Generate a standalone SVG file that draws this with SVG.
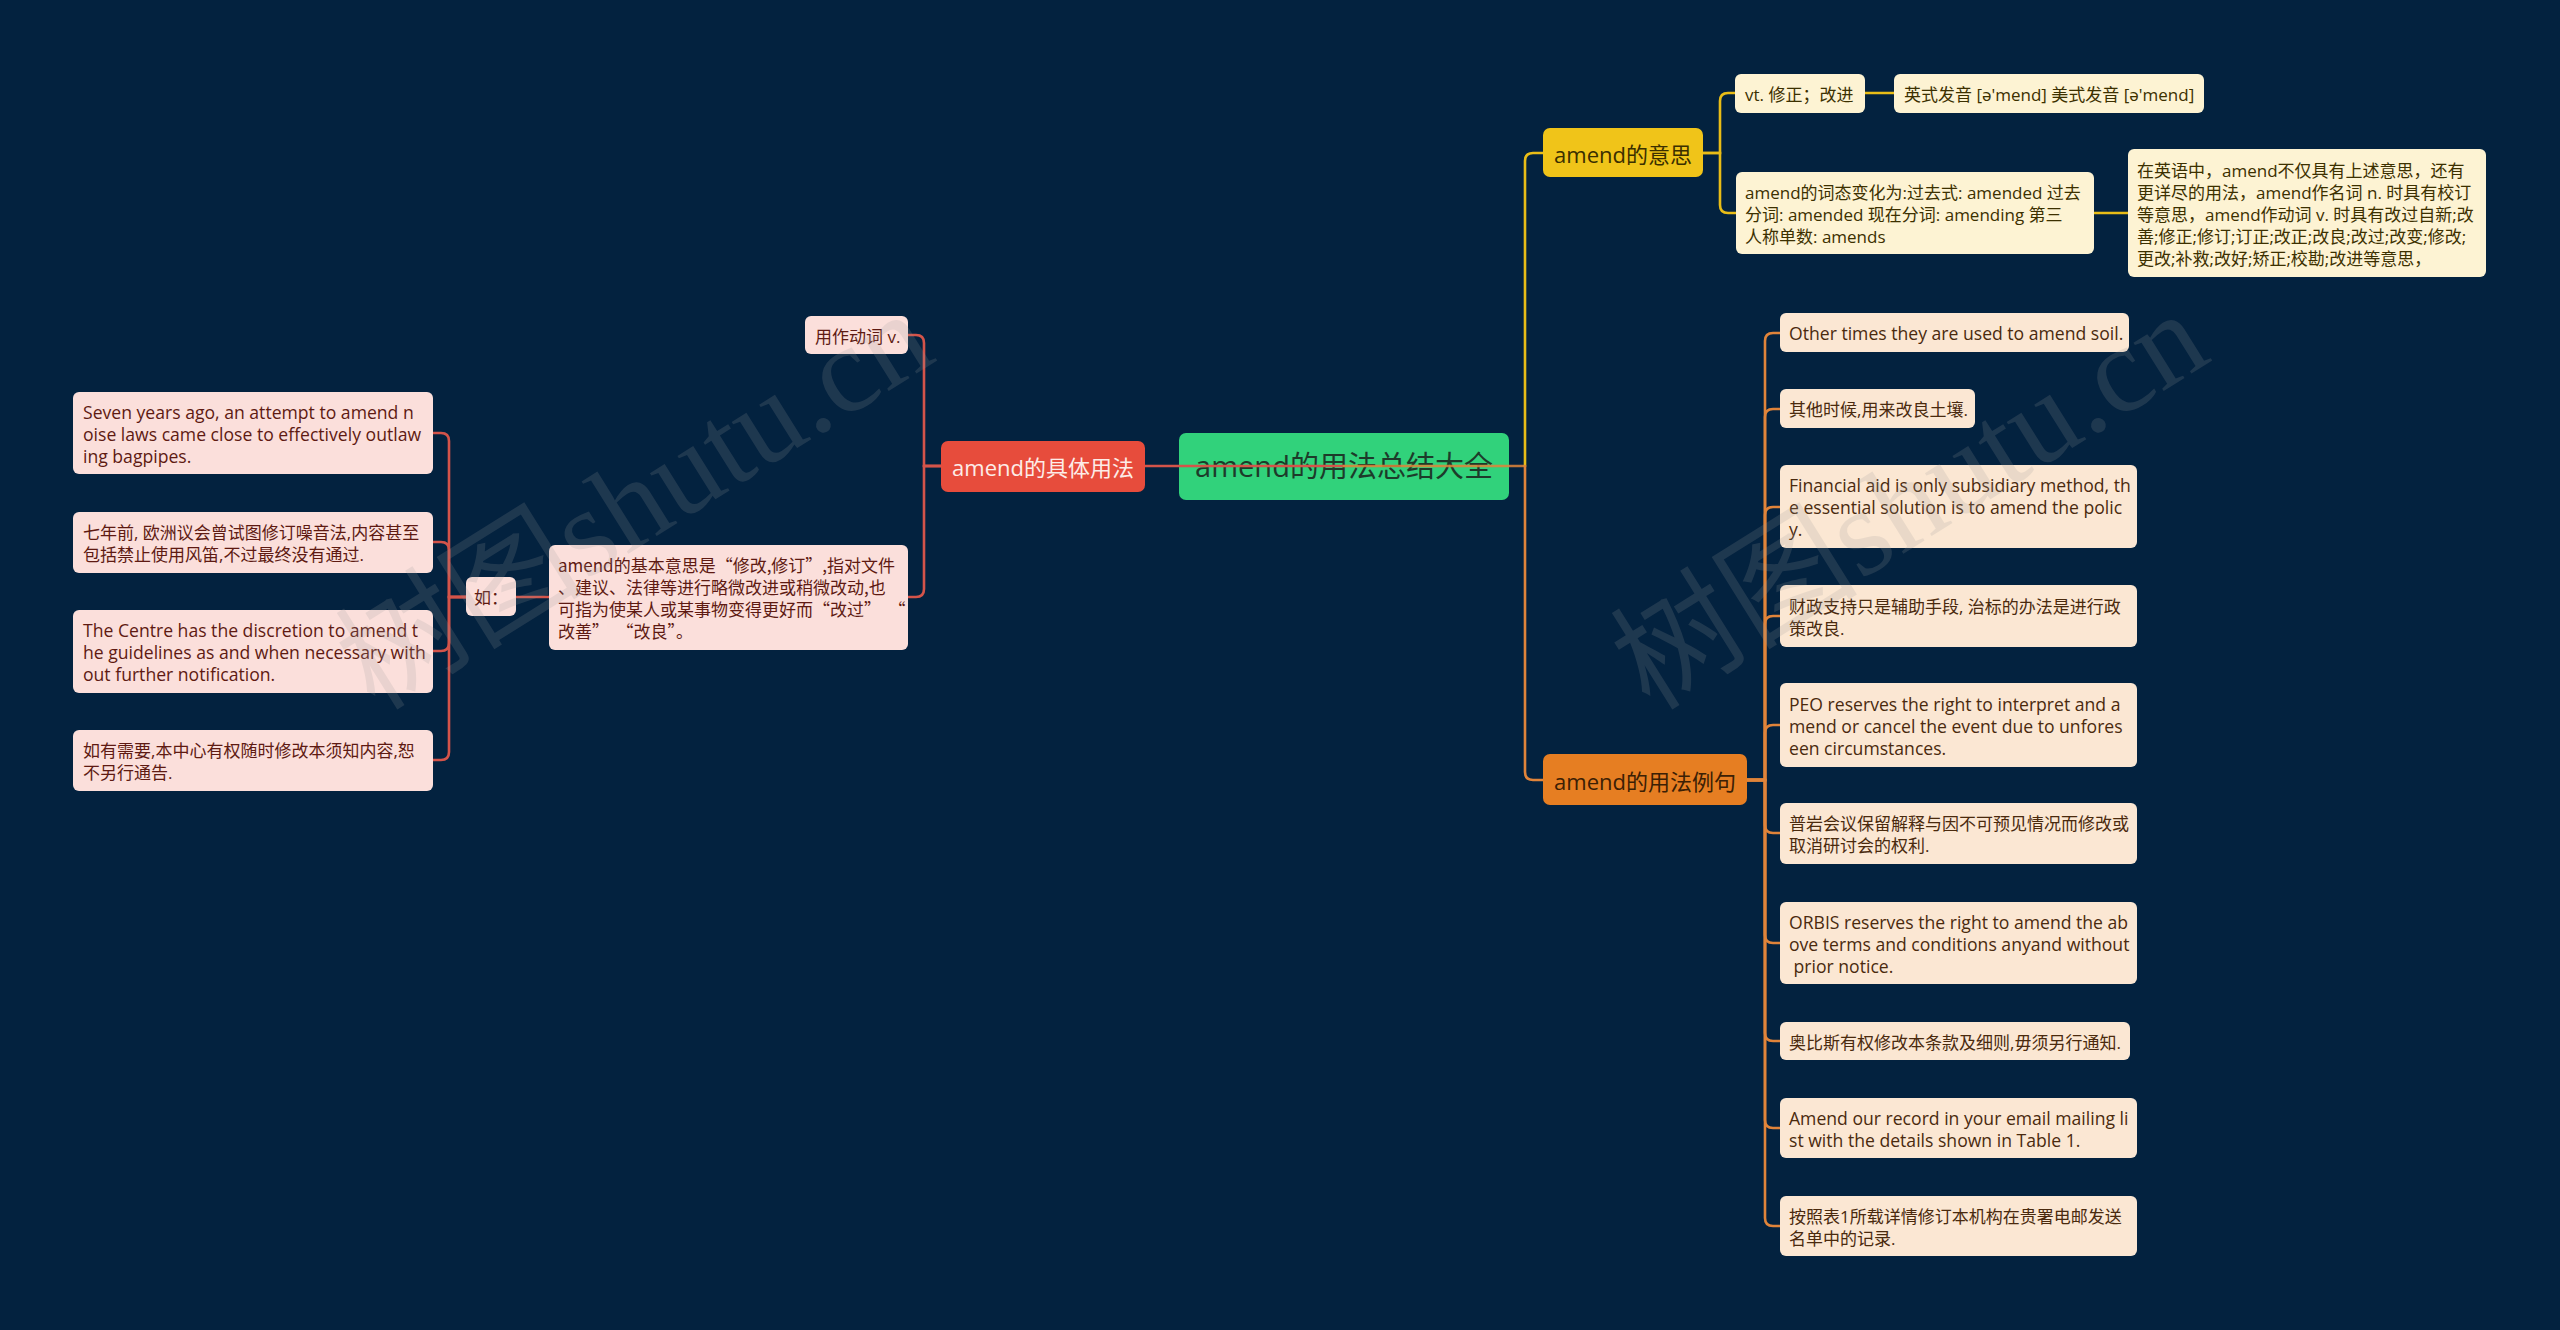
<svg xmlns="http://www.w3.org/2000/svg" width="2560" height="1330" viewBox="0 0 2560 1330">
<style>
text{font-family:"Open Sans","Noto Sans CJK SC",sans-serif;font-size:17px}
.en{font-size:17.6px}
.cjk{font-family:"Noto Sans CJK SC","Open Sans",sans-serif}
.c{stroke-width:2.6;fill:none;stroke-linecap:round}
.cr{stroke:#d4544a}.cg{stroke:#e9bd17}.co{stroke:#e0843a}
.pk rect{fill:#fbdfdb}.pk text{fill:#5e1a12}
.cr2 rect{fill:#fdf3d3}.cr2 text{fill:#3c3000}
.pe rect{fill:#fbe7d3}.pe text{fill:#4a2a0e}
.mid{text-anchor:middle;font-size:22px}
.wm{font-family:"Liberation Serif","Noto Sans CJK SC",serif;font-size:124px;fill:#9a9a9a;opacity:.18}
</style>
<rect width="2560" height="1330" fill="#03223f"/>
<g id="root"><rect x="1179" y="433" width="330" height="67" rx="7" fill="#31d27b"/><text x="1344" y="477" class="mid" style="font-size:29px" fill="#1d3b2a">amend的用法总结大全</text></g>
<g id="connectors">
<path class="c cr" d="M1344,466 H924"/>
<path class="c cr" d="M941,466 H924 V343 Q924,335 916,335 H908"/>
<path class="c cr" d="M941,466 H924 V589 Q924,597 916,597 H908"/>
<path class="c cr" d="M549,597 H516"/>
<path class="c cr" d="M466,597 H449 V441 Q449,433 441,433 H433"/>
<path class="c cr" d="M466,597 H449 V550 Q449,542 441,542 H433"/>
<path class="c cr" d="M466,597 H449 V643 Q449,651 441,651 H433"/>
<path class="c cr" d="M466,597 H449 V752 Q449,760 441,760 H433"/>
<path class="c co" d="M1344,466 H1525" opacity=".85"/>
<path class="c cg" d="M1525,466 V161 Q1525,153 1533,153 H1543"/>
<path class="c co" d="M1525,466 V772 Q1525,780 1533,780 H1543"/>
<path class="c cg" d="M1703,153 H1720 V101 Q1720,93 1728,93 H1735"/>
<path class="c cg" d="M1703,153 H1720 V205 Q1720,213 1728,213 H1736"/>
<path class="c cg" d="M1865,93 H1894"/>
<path class="c cg" d="M2094,213 H2128"/>
<path class="c co" d="M1747,780 H1765 V341 Q1765,333 1773,333 H1780"/>
<path class="c co" d="M1747,780 H1765 V417 Q1765,409 1773,409 H1780"/>
<path class="c co" d="M1747,780 H1765 V515 Q1765,507 1773,507 H1780"/>
<path class="c co" d="M1747,780 H1765 V624 Q1765,616 1773,616 H1780"/>
<path class="c co" d="M1747,780 H1765 V733 Q1765,725 1773,725 H1780"/>
<path class="c co" d="M1747,780 H1765 V825 Q1765,833 1773,833 H1780"/>
<path class="c co" d="M1747,780 H1765 V935 Q1765,943 1773,943 H1780"/>
<path class="c co" d="M1747,780 H1765 V1033 Q1765,1041 1773,1041 H1780"/>
<path class="c co" d="M1747,780 H1765 V1120 Q1765,1128 1773,1128 H1780"/>
<path class="c co" d="M1747,780 H1765 V1218 Q1765,1226 1773,1226 H1780"/>
</g>
<g id="b-mean"><rect x="1543" y="128" width="160" height="49" rx="7" fill="#f0c419"/><text x="1623" y="162.5" class="mid" fill="#3a2f00">amend的意思</text></g>
<g id="b-ex"><rect x="1543" y="754" width="204" height="51" rx="7" fill="#e67e22"/><text x="1645" y="789.5" class="mid" fill="#3b2005">amend的用法例句</text></g>
<g id="b-use"><rect x="941" y="441" width="204" height="51" rx="7" fill="#e74c3c"/><text x="1043" y="475.5" class="mid" fill="#fdece8">amend的具体用法</text></g>

<g class="cr2">
<g id="m1"><rect x="1735" y="74" width="130" height="39" rx="6"/><text x="1745" y="100.5">vt. 修正；改进</text></g>
<g id="m2"><rect x="1894" y="74" width="310" height="39" rx="6"/><text x="1904" y="100.5">英式发音 [ə'mend] 美式发音 [ə'mend]</text></g>
<g id="m3"><rect x="1736" y="172" width="358" height="82" rx="6"/><text><tspan x="1745" y="198.5">amend的词态变化为:过去式: amended 过去</tspan><tspan x="1745" y="220.5">分词: amended 现在分词: amending 第三</tspan><tspan x="1745" y="242.5">人称单数: amends</tspan></text></g>
<g id="m4"><rect x="2128" y="149" width="358" height="128" rx="6"/><text><tspan x="2137" y="176.5">在英语中，amend不仅具有上述意思，还有</tspan><tspan x="2137" y="198.5">更详尽的用法，amend作名词 n. 时具有校订</tspan><tspan x="2137" y="220.5">等意思，amend作动词 v. 时具有改过自新;改</tspan><tspan x="2137" y="242.5">善;修正;修订;订正;改正;改良;改过;改变;修改;</tspan><tspan x="2137" y="264.5">更改;补救;改好;矫正;校勘;改进等意思，</tspan></text></g>
</g>

<g class="pe">
<g id="e1"><rect x="1780" y="313" width="349" height="39" rx="6"/><text class="en" x="1789" y="340">Other times they are used to amend soil.</text></g>
<g id="e2"><rect x="1780" y="389" width="195" height="39" rx="6"/><text x="1789" y="416">其他时候,用来改良土壤.</text></g>
<g id="e3"><rect x="1780" y="465" width="357" height="83" rx="6"/><text class="en"><tspan x="1789" y="492">Financial aid is only subsidiary method, th</tspan><tspan x="1789" y="514">e essential solution is to amend the polic</tspan><tspan x="1789" y="536">y.</tspan></text></g>
<g id="e4"><rect x="1780" y="585" width="357" height="62" rx="6"/><text><tspan x="1789" y="612.5">财政支持只是辅助手段, 治标的办法是进行政</tspan><tspan x="1789" y="634.5">策改良.</tspan></text></g>
<g id="e5"><rect x="1780" y="683" width="357" height="84" rx="6"/><text class="en"><tspan x="1789" y="710.5">PEO reserves the right to interpret and a</tspan><tspan x="1789" y="732.5">mend or cancel the event due to unfores</tspan><tspan x="1789" y="754.5">een circumstances.</tspan></text></g>
<g id="e6"><rect x="1780" y="803" width="357" height="61" rx="6"/><text><tspan x="1789" y="830">普岩会议保留解释与因不可预见情况而修改或</tspan><tspan x="1789" y="852">取消研讨会的权利.</tspan></text></g>
<g id="e7"><rect x="1780" y="902" width="357" height="82" rx="6"/><text class="en"><tspan x="1789" y="928.5">ORBIS reserves the right to amend the ab</tspan><tspan x="1789" y="950.5">ove terms and conditions anyand without</tspan><tspan x="1789" y="972.5" xml:space="preserve"> prior notice.</tspan></text></g>
<g id="e8"><rect x="1780" y="1022" width="350" height="38" rx="6"/><text x="1789" y="1048.5">奥比斯有权修改本条款及细则,毋须另行通知.</text></g>
<g id="e9"><rect x="1780" y="1098" width="357" height="60" rx="6"/><text class="en"><tspan x="1789" y="1124.5">Amend our record in your email mailing li</tspan><tspan x="1789" y="1146.5">st with the details shown in Table 1.</tspan></text></g>
<g id="e10"><rect x="1780" y="1196" width="357" height="60" rx="6"/><text><tspan x="1789" y="1222.5">按照表1所载详情修订本机构在贵署电邮发送</tspan><tspan x="1789" y="1244.5">名单中的记录.</tspan></text></g>
</g>

<g class="pk">
<g id="u1"><rect x="805" y="316" width="103" height="38" rx="6"/><text x="815" y="342.5">用作动词 v.</text></g>
<g id="u2"><rect x="549" y="545" width="359" height="105" rx="6"/><text class="cjk" xml:space="preserve"><tspan x="558" y="572">amend的基本意思是“修改,修订”,指对文件</tspan><tspan x="558" y="594">、建议、法律等进行略微改进或稍微改动,也</tspan><tspan x="558" y="616">可指为使某人或某事物变得更好而“改过”  “</tspan><tspan x="558" y="638">改善”  “改良”。</tspan></text></g>
<g id="u3"><rect x="466" y="577" width="50" height="39" rx="6"/><text x="474" y="604">如：</text></g>
<g id="u4"><rect x="73" y="392" width="360" height="82" rx="6"/><text class="en"><tspan x="83" y="418.5">Seven years ago, an attempt to amend n</tspan><tspan x="83" y="440.5">oise laws came close to effectively outlaw</tspan><tspan x="83" y="462.5">ing bagpipes.</tspan></text></g>
<g id="u5"><rect x="73" y="512" width="360" height="61" rx="6"/><text><tspan x="83" y="539">七年前, 欧洲议会曾试图修订噪音法,内容甚至</tspan><tspan x="83" y="561">包括禁止使用风笛,不过最终没有通过.</tspan></text></g>
<g id="u6"><rect x="73" y="610" width="360" height="83" rx="6"/><text class="en"><tspan x="83" y="637">The Centre has the discretion to amend t</tspan><tspan x="83" y="659">he guidelines as and when necessary with</tspan><tspan x="83" y="681">out further notification.</tspan></text></g>
<g id="u7"><rect x="73" y="730" width="360" height="61" rx="6"/><text><tspan x="83" y="757">如有需要,本中心有权随时修改本须知内容,恕</tspan><tspan x="83" y="779">不另行通告.</tspan></text></g>
</g>

<text class="wm" transform="translate(375,712) rotate(-32)">树图shutu.cn</text>
<text class="wm" transform="translate(1650,712) rotate(-32)">树图shutu.cn</text>
</svg>
